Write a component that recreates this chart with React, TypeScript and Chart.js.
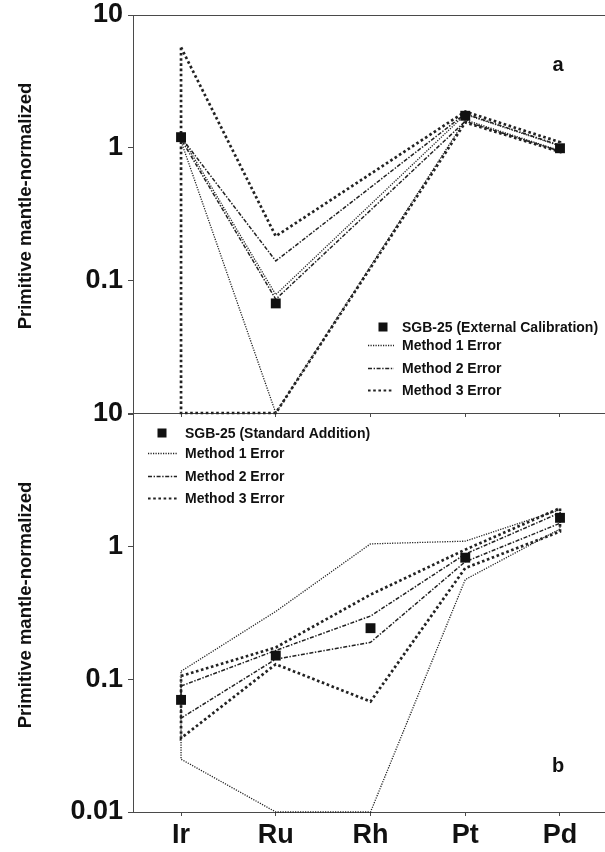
import React, { useEffect, useRef } from 'react';
import { Chart, registerables } from 'chart.js';

Chart.register(...registerables);

// ---------- data ----------
const categories = ['Ir', 'Ru', 'Rh', 'Pt', 'Pd'];
const yTickValues = [0.01, 0.1, 1, 10];
const yAxisTitle = 'Primitive mantle-normalized';
const methodNames = ['Method 1 Error', 'Method 2 Error', 'Method 3 Error'];

// Panel a: external calibration (no Rh value)
const extCalName = 'SGB-25 (External Calibration)';
const extCal = [1.2, 0.067, null, 1.74, 0.99];
const extM1Upper = [1.22, 0.078, null, 1.78, 1.03];
const extM1Lower = [1.12, 0.01, null, 1.62, 0.95];
const extM2Upper = [1.2, 0.14, null, 1.8, 1.04];
const extM2Lower = [1.16, 0.072, null, 1.58, 0.94];
const extM3Upper = [5.7, 0.215, null, 1.87, 1.1];
const extM3Lower = [0.01, 0.01, null, 1.55, 0.93];

// Panel b: standard addition
const stdAddName = 'SGB-25 (Standard Addition)';
const stdAdd = [0.07, 0.151, 0.243, 0.826, 1.65];
const stdM1Upper = [0.115, 0.325, 1.05, 1.1, 1.9];
const stdM1Lower = [0.025, 0.01, 0.01, 0.565, 1.36];
const stdM2Upper = [0.089, 0.165, 0.3, 0.88, 1.8];
const stdM2Lower = [0.051, 0.142, 0.19, 0.77, 1.5];
const stdM3Upper = [0.106, 0.174, 0.435, 0.95, 1.95];
const stdM3Lower = [0.036, 0.13, 0.068, 0.69, 1.3];

// ---------- styling ----------
const FONT = "'Liberation Sans', Arial, Helvetica, sans-serif";
const AXIS_COLOR = '#4a4a4a';
const LINE_COLOR = '#222222';
const MARK_COLOR = '#111111';
const methodStyles = [
  { width: 1.3, dash: [1.2, 1.3] },
  { width: 1.5, dash: [4, 1.6, 1.4, 1.6] },
  { width: 2.7, dash: [2.6, 2.6] },
];
const X_MIN = -0.507;
const X_MAX = 4.475;

type Num = number | null;

function toPoints(vals: Num[]) {
  const pts: { x: number; y: number }[] = [];
  vals.forEach((v, i) => {
    if (v != null) pts.push({ x: i, y: v });
  });
  return pts;
}

function envelope(upper: Num[], lower: Num[]) {
  const pts = toPoints(upper);
  for (let i = lower.length - 1; i >= 0; i--) {
    const v = lower[i];
    if (v != null) pts.push({ x: i, y: v });
  }
  if (pts.length) pts.push({ ...pts[0] });
  return pts;
}

interface PanelSpec {
  seriesName: string;
  series: Num[];
  envelopes: [Num[], Num[]][];
  padTop: number;
  xAxisHeight: number;
  showXLabels: boolean;
  hideBottomYLabel: boolean;
  letter: string;
  letterPos: [number, number];
  legendMarkerX: number;
  legendTextX: number;
  legendLine: [number, number];
  legendRows: number[];
  topBorder: boolean;
}

function makeOverlay(p: PanelSpec) {
  return {
    id: 'panelOverlay',
    afterDraw(chart: any) {
      const ctx: CanvasRenderingContext2D = chart.ctx;
      const { top, bottom, left, right } = chart.chartArea;
      ctx.save();
      if (p.topBorder) {
        ctx.strokeStyle = AXIS_COLOR;
        ctx.lineWidth = 1;
        ctx.beginPath();
        ctx.moveTo(left, top + 0.5);
        ctx.lineTo(right, top + 0.5);
        ctx.stroke();
      }
      // panel letter
      ctx.fillStyle = MARK_COLOR;
      ctx.font = `bold 20px ${FONT}`;
      ctx.textAlign = 'center';
      ctx.textBaseline = 'middle';
      ctx.fillText(p.letter, p.letterPos[0], p.letterPos[1]);

      // y axis title
      ctx.save();
      ctx.translate(26, (top + bottom) / 2 - 8);
      ctx.rotate(-Math.PI / 2);
      ctx.font = `bold 18.5px ${FONT}`;
      ctx.textAlign = 'center';
      ctx.textBaseline = 'middle';
      ctx.fillText(yAxisTitle, 0, 0);
      ctx.restore();

      // legend
      const labels = [p.seriesName, ...methodNames];
      ctx.font = `bold 14px ${FONT}`;
      ctx.textAlign = 'left';
      ctx.textBaseline = 'middle';
      labels.forEach((lab, i) => {
        const y = p.legendRows[i];
        if (i === 0) {
          ctx.fillStyle = MARK_COLOR;
          ctx.fillRect(p.legendMarkerX - 4.5, y - 4.5, 9, 9);
        } else {
          const ds = chart.data.datasets[i];
          ctx.save();
          ctx.strokeStyle = LINE_COLOR;
          ctx.lineWidth = Math.min(ds.borderWidth, 2.2);
          ctx.setLineDash(ds.borderDash);
          ctx.beginPath();
          ctx.moveTo(p.legendLine[0], y + 0.5);
          ctx.lineTo(p.legendLine[1], y + 0.5);
          ctx.stroke();
          ctx.restore();
        }
        ctx.fillStyle = MARK_COLOR;
        ctx.fillText(lab, p.legendTextX, y + 1);
      });
      ctx.restore();
    },
  };
}

function buildConfig(p: PanelSpec): any {
  const datasets: any[] = [
    {
      label: p.seriesName,
      data: toPoints(p.series),
      showLine: false,
      pointStyle: 'rect',
      pointRadius: 7,
      pointHoverRadius: 7,
      backgroundColor: MARK_COLOR,
      borderColor: MARK_COLOR,
      borderWidth: 0,
      clip: false,
    },
    ...p.envelopes.map((env, k) => ({
      label: methodNames[k],
      data: envelope(env[0], env[1]),
      borderColor: LINE_COLOR,
      borderWidth: methodStyles[k].width,
      borderDash: methodStyles[k].dash,
      pointRadius: 0,
      pointHoverRadius: 0,
      fill: false,
      tension: 0,
      clip: false,
    })),
  ];
  const tickFont = { family: FONT, size: 27, weight: 'bold' as const };
  return {
    type: 'line',
    data: { datasets },
    options: {
      animation: false,
      responsive: false,
      events: [],
      layout: { autoPadding: false, padding: { top: p.padTop, left: 0, right: 0, bottom: 0 } },
      plugins: {
        legend: { display: false },
        tooltip: { enabled: false },
        title: { display: false },
      },
      scales: {
        x: {
          type: 'linear',
          min: X_MIN,
          max: X_MAX,
          afterBuildTicks: (s: any) => {
            s.ticks = categories.map((_, i) => ({ value: i }));
          },
          afterFit: (s: any) => {
            s.height = p.xAxisHeight;
            s.paddingLeft = 0;
            s.paddingRight = 0;
          },
          grid: { drawOnChartArea: false, drawTicks: true, tickLength: 4, color: AXIS_COLOR },
          border: { display: true, color: AXIS_COLOR, width: 1 },
          ticks: {
            display: p.showXLabels,
            autoSkip: false,
            maxRotation: 0,
            padding: 3,
            color: MARK_COLOR,
            font: tickFont,
            callback: (v: any) => categories[Math.round(v)] ?? '',
          },
        },
        y: {
          type: 'logarithmic',
          min: 0.01,
          max: 10,
          afterBuildTicks: (s: any) => {
            s.ticks = yTickValues.map((v) => ({ value: v }));
          },
          afterFit: (s: any) => {
            s.width = 133;
            s.paddingTop = 0;
            s.paddingBottom = 0;
          },
          grid: { drawOnChartArea: false, drawTicks: true, tickLength: 5, color: AXIS_COLOR },
          border: { display: true, color: AXIS_COLOR, width: 1 },
          ticks: {
            padding: 5,
            color: MARK_COLOR,
            font: tickFont,
            callback: (v: any) => (p.hideBottomYLabel && v === 0.01 ? '' : String(v)),
          },
        },
      },
    },
    plugins: [makeOverlay(p)],
  };
}

const panelA: PanelSpec = {
  seriesName: extCalName,
  series: extCal,
  envelopes: [
    [extM1Upper, extM1Lower],
    [extM2Upper, extM2Lower],
    [extM3Upper, extM3Lower],
  ],
  padTop: 15,
  xAxisHeight: 7,
  showXLabels: false,
  hideBottomYLabel: true,
  letter: 'a',
  letterPos: [558, 65],
  legendMarkerX: 383,
  legendTextX: 402,
  legendLine: [368, 394],
  legendRows: [327, 345, 368, 390],
  topBorder: true,
};

const B_TOP = 380;
const panelB: PanelSpec = {
  seriesName: stdAddName,
  series: stdAdd,
  envelopes: [
    [stdM1Upper, stdM1Lower],
    [stdM2Upper, stdM2Lower],
    [stdM3Upper, stdM3Lower],
  ],
  padTop: 414 - B_TOP,
  xAxisHeight: 852 - 812,
  showXLabels: true,
  hideBottomYLabel: false,
  letter: 'b',
  letterPos: [558, 766 - B_TOP],
  legendMarkerX: 162,
  legendTextX: 185,
  legendLine: [148, 177],
  legendRows: [433 - B_TOP, 453 - B_TOP, 476 - B_TOP, 498 - B_TOP],
  topBorder: false,
};

function Panel({ spec, top, height }: { spec: PanelSpec; top: number; height: number }) {
  const ref = useRef<HTMLCanvasElement | null>(null);
  useEffect(() => {
    if (!ref.current) return;
    const chart = new Chart(ref.current, buildConfig(spec));
    return () => chart.destroy();
  }, [spec]);
  return (
    <canvas
      ref={ref}
      width={605}
      height={height}
      style={{ position: 'absolute', left: 0, top, width: 605, height }}
    />
  );
}

export default function App() {
  return (
    <div style={{ position: 'relative', width: 605, height: 852, background: '#fff', overflow: 'hidden' }}>
      <style>{`body{margin:0;background:#fff;}`}</style>
      <Panel spec={panelB} top={B_TOP} height={852 - B_TOP} />
      <Panel spec={panelA} top={0} height={420} />
    </div>
  );
}
